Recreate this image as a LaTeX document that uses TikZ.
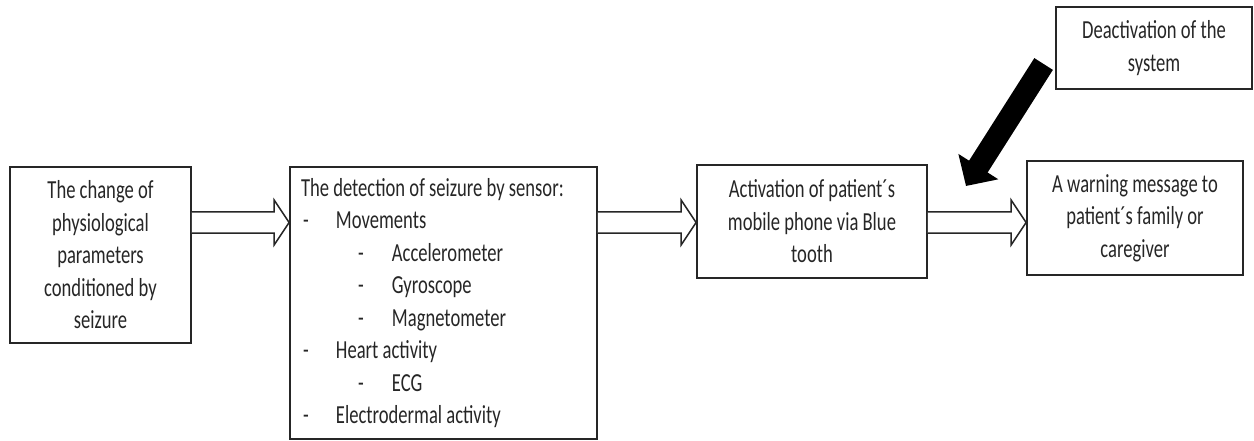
\documentclass[tikz,border=0pt]{standalone}
\usepackage{fontspec}
\setmainfont{Carlito}[FakeStretch=0.715]
\usetikzlibrary{calc,arrows.meta}
\tikzset{
  box/.style={draw=black!85, line width=1.8pt, inner sep=0pt, align=center,
    font=\fontsize{26}{32.5}\selectfont, text=black!85},
  harrow/.style={draw=black!85, line width=1.5pt, fill=white, line join=miter},
  bigarrow/.style={black, line width=22pt, -{Triangle[length=23pt,width=46pt]}}
}
\newcommand\hollowarrow[2]{%
  \draw[harrow] ($(#1)+(0,10.5)$) -- ($(#2)+(-15,10.5)$) -- ($(#2)+(-15,22.5)$) -- (#2)
    -- ($(#2)+(-15,-22.5)$) -- ($(#2)+(-15,-10.5)$) -- ($(#1)+(0,-10.5)$);}
\begin{document}
\begin{tikzpicture}[x=1pt, y=-1pt]
\useasboundingbox (0,0) rectangle (1254,441);
\node[box, minimum width=181pt, minimum height=176pt] (b1) at (100.5,255)
  {The change of\\physiological\\parameters\\conditioned by\\seizure};
\node[box, inner xsep=11pt, text width=285pt, align=left, minimum height=272pt] (b2) at (443.5,303)
  {\spaceskip=0pt\xspaceskip=0pt The detection of seizure by sensor:\\
   \hspace*{2pt}\makebox[33pt][l]{-}Movements\\
   \hspace*{57pt}\makebox[34pt][l]{-}Accelerometer\\
   \hspace*{57pt}\makebox[34pt][l]{-}Gyroscope\\
   \hspace*{57pt}\makebox[34pt][l]{-}Magnetometer\\
   \hspace*{2pt}\makebox[33pt][l]{-}Heart activity\\
   \hspace*{57pt}\makebox[34pt][l]{-}ECG\\
   \hspace*{2pt}\makebox[33pt][l]{-}Electrodermal activity};
\node[box, minimum width=230pt, minimum height=113pt] (b3) at (812,221.5)
  {Activation of patient´s\\mobile phone via Blue\\tooth};
\node[box, minimum width=216pt, minimum height=114pt] (b4) at (1135,218)
  {A warning message to\\patient´s family or\\caregiver};
\node[box, minimum width=196pt, minimum height=82pt] (b5) at (1154,48)
  {Deactivation of the\\system};
\coordinate (ay) at (0,222.5);
\coordinate (a1s) at (b1.east |- ay);
\coordinate (a1e) at (b2.west |- ay);
\coordinate (a2s) at (b2.east |- ay);
\coordinate (a2e) at (b3.west |- ay);
\coordinate (a3s) at (b3.east |- ay);
\coordinate (a3e) at (b4.west |- ay);
\hollowarrow{a1s}{a1e}
\hollowarrow{a2s}{a2e}
\hollowarrow{a3s}{a3e}
\coordinate (ds) at ($(b5.west)+(-11.5,16)$);
\coordinate (dt) at (966,186);
\draw[bigarrow] (ds) -- (dt);
\end{tikzpicture}
\end{document}
